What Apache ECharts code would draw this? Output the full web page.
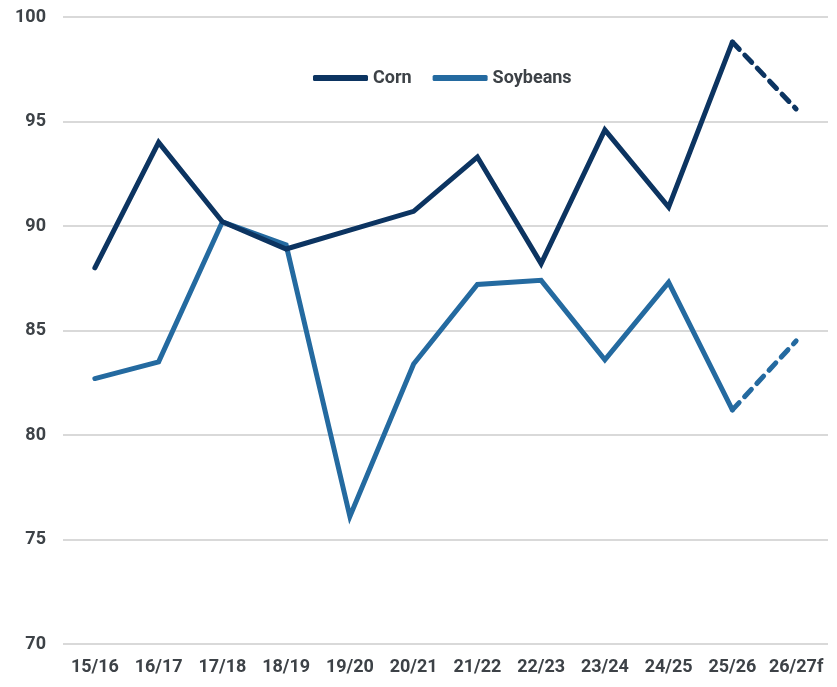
<!DOCTYPE html>
<html>
<head>
<meta charset="utf-8">
<script src="https://cdn.jsdelivr.net/npm/echarts@6/dist/echarts.min.js"></script>
<style>
html,body{margin:0;padding:0;background:#fff;}
#main{width:837px;height:687px;}
</style>
</head>
<body>
<div id="main"></div>
<script>
var years = ['15/16','16/17','17/18','18/19','19/20','20/21','21/22','22/23','23/24','24/25','25/26','26/27f'];
var corn = [88.0, 94.0, 90.2, 88.9, 89.8, 90.7, 93.3, 88.2, 94.6, 90.9, 98.8, 95.6];
var soybeans = [82.7, 83.5, 90.2, 89.1, 76.1, 83.4, 87.2, 87.4, 83.6, 87.3, 81.2, 84.5];
var yTicks = [70, 75, 80, 85, 90, 95, 100];
var firstForecast = 10; // dashed from 25/26 to 26/27f

function actual(arr){
	return arr.map(function(v,i){ return i <= firstForecast ? v : null; });
}
function forecast(arr){
	return arr.map(function(v,i){ return i >= firstForecast ? v : null; });
}

var cornColor = '#0c3461';
var soyColor = '#246aa0';
var textColor = '#3d4247';

var myChart = echarts.init(document.getElementById('main'));
var option = {
	animation: false,
	textStyle: { fontFamily: 'Roboto' },
	legend: {
		data: ['Corn','Soybeans'],
		top: 64,
		left: 308,
		itemWidth: 55,
		itemHeight: 6,
		itemGap: 21,
		icon: 'roundRect',
		textStyle: { color: textColor, fontSize: 18, fontWeight: 'bold', fontFamily: 'Roboto' }
	},
	grid: { left: 63, right: 9, top: 17, bottom: 43 },
	xAxis: {
		type: 'category',
		data: years,
		boundaryGap: true,
		axisLine: { show: false },
		axisTick: { show: false },
		axisLabel: { color: textColor, fontSize: 18, fontWeight: 'bold', margin: 14, interval: 0 }
	},
	yAxis: {
		type: 'value',
		min: yTicks[0],
		max: yTicks[yTicks.length-1],
		interval: 5,
		axisLine: { show: false },
		axisTick: { show: false },
		axisLabel: { color: textColor, fontSize: 18, fontWeight: 'bold', margin: 17 },
		splitLine: { lineStyle: { color: '#d9d9d9', width: 2 } }
	},
	series: [{
		name: 'Corn',
		type: 'line',
		data: actual(corn),
		showSymbol: false,
		color: cornColor,
		lineStyle: { width: 5, color: cornColor, cap: 'round', join: 'miter' }
	},{
		name: 'Soybeans',
		type: 'line',
		data: actual(soybeans),
		showSymbol: false,
		color: soyColor,
		z: 1,
		lineStyle: { width: 5, color: soyColor, cap: 'round', join: 'miter' }
	},{
		name: 'Corn',
		type: 'line',
		data: forecast(corn),
		showSymbol: false,
		color: cornColor,
		lineStyle: { width: 5, color: cornColor, type: [10, 8], cap: 'round' }
	},{
		name: 'Soybeans',
		type: 'line',
		data: forecast(soybeans),
		showSymbol: false,
		color: soyColor,
		lineStyle: { width: 5, color: soyColor, type: [10, 8], cap: 'round' }
	}]
};
myChart.setOption(option);
</script>
</body>
</html>
